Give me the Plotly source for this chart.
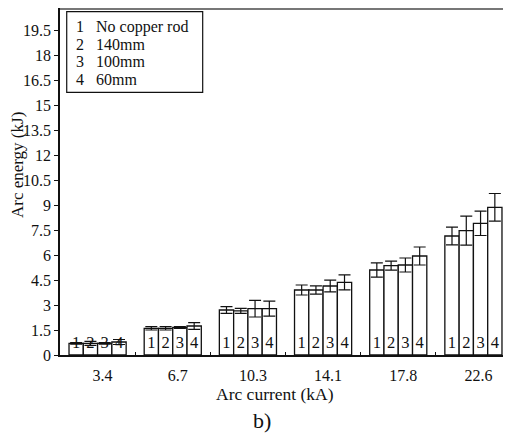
import plotly.graph_objects as go

categories = ["3.4", "6.7", "10.3", "14.1", "17.8", "22.6"]
series_names = ["No copper rod", "140mm", "100mm", "60mm"]
series_labels = ["1", "2", "3", "4"]
no_rod = [0.70, 1.60, 2.70, 3.90, 5.10, 7.14]
rod_140 = [0.70, 1.60, 2.65, 3.90, 5.36, 7.46]
rod_100 = [0.70, 1.65, 2.78, 4.14, 5.40, 7.90]
rod_60 = [0.78, 1.74, 2.78, 4.36, 5.94, 8.86]
err_no_rod = [0.05, 0.10, 0.20, 0.30, 0.43, 0.53]
err_140 = [0.12, 0.10, 0.15, 0.25, 0.27, 0.87]
err_100 = [0.05, 0.05, 0.50, 0.35, 0.42, 0.73]
err_60 = [0.15, 0.20, 0.45, 0.45, 0.54, 0.83]
y_ticks = [0, 1.5, 3, 4.5, 6, 7.5, 9, 10.5, 12, 13.5, 15, 16.5, 18, 19.5]
y_tick_text = ["0", "1.5", "3", "4.5", "6", "7.5", "9", "10.5", "12", "13.5", "15", "16.5", "18", "19.5"]

values = [no_rod, rod_140, rod_100, rod_60]
errors = [err_no_rod, err_140, err_100, err_60]

FONT = "Liberation Serif, Times New Roman, serif"
INK = "#111111"
fig = go.Figure()
for name, lab, vals, errs in zip(series_names, series_labels, values, errors):
    fig.add_trace(go.Bar(
        x=categories, y=vals, name=name,
        marker=dict(color="white", line=dict(color=INK, width=1.3)),
        error_y=dict(type="data", array=errs, visible=True, color=INK, thickness=1.2, width=6),
        text=[lab] * len(vals), textposition="inside", insidetextanchor="start",
        constraintext="none", textangle=0,
        textfont=dict(family=FONT, size=16.5, color=INK),
        showlegend=False, cliponaxis=False,
    ))

# legend box drawn as a frame plus one text line per series
leg_y = [0.9452, 0.8948, 0.8444, 0.7939]
annotations = [
    dict(text=f"{l}&nbsp;&nbsp;&nbsp;{n}", xref="paper", yref="paper", x=0.0333, y=yy,
         xanchor="left", yanchor="middle", align="left", showarrow=False, borderpad=0,
         font=dict(family=FONT, size=16, color=INK))
    for l, n, yy in zip(series_labels, series_names, leg_y)
]
annotations += [
    dict(text="Arc energy (kJ)", xref="paper", yref="paper", x=-0.0942, y=0.546,
         textangle=-90, showarrow=False, borderpad=0, font=dict(family=FONT, size=17, color=INK),
         xanchor="center", yanchor="middle"),
    dict(text="Arc current (kA)", xref="paper", yref="paper", x=0.477, y=-0.112,
         showarrow=False, borderpad=0, font=dict(family=FONT, size=17.5, color=INK),
         xanchor="center", yanchor="middle"),
    dict(text="b)", xref="paper", yref="paper", x=0.448, y=-0.19,
         showarrow=False, font=dict(family=FONT, size=22, color=INK), xanchor="center", yanchor="middle"),
]

# page body adds an 8px offset; figure is sized/margined to compensate
fig.update_layout(
    width=503, height=429,
    margin=dict(l=52, r=0, t=0, b=82, pad=0),
    paper_bgcolor="white", plot_bgcolor="white",
    barmode="group", bargap=0.24, bargroupgap=0,
    font=dict(family=FONT, size=16, color=INK),
    xaxis=dict(
        type="category", range=[-0.5, 5.5], showline=True, linecolor=INK, linewidth=1.5,
        ticks="inside", tickson="boundaries", ticklen=3, tickcolor=INK,
        ticklabelshift=5, ticklabelstandoff=5,
        showgrid=False, zeroline=False, tickfont=dict(family=FONT, size=16, color=INK),
    ),
    yaxis=dict(
        range=[0, 20.82], tickvals=y_ticks, ticktext=y_tick_text,
        showline=True, linecolor=INK, linewidth=1.5,
        ticks="outside", ticklen=4, tickcolor=INK,
        showgrid=False, zeroline=False, tickfont=dict(family=FONT, size=16, color=INK),
    ),
    shapes=[
        dict(type="line", xref="paper", yref="paper", x0=0, x1=1, y0=0.997, y1=0.997,
             line=dict(color="#777777", width=2)),
        dict(type="rect", xref="paper", yref="paper", x0=0.0149, x1=0.3164, y0=0.7571, y1=0.9893,
             line=dict(color=INK, width=1.2), fillcolor="white", layer="above"),
    ],
    annotations=annotations,
)
fig.write_html("out.html")
